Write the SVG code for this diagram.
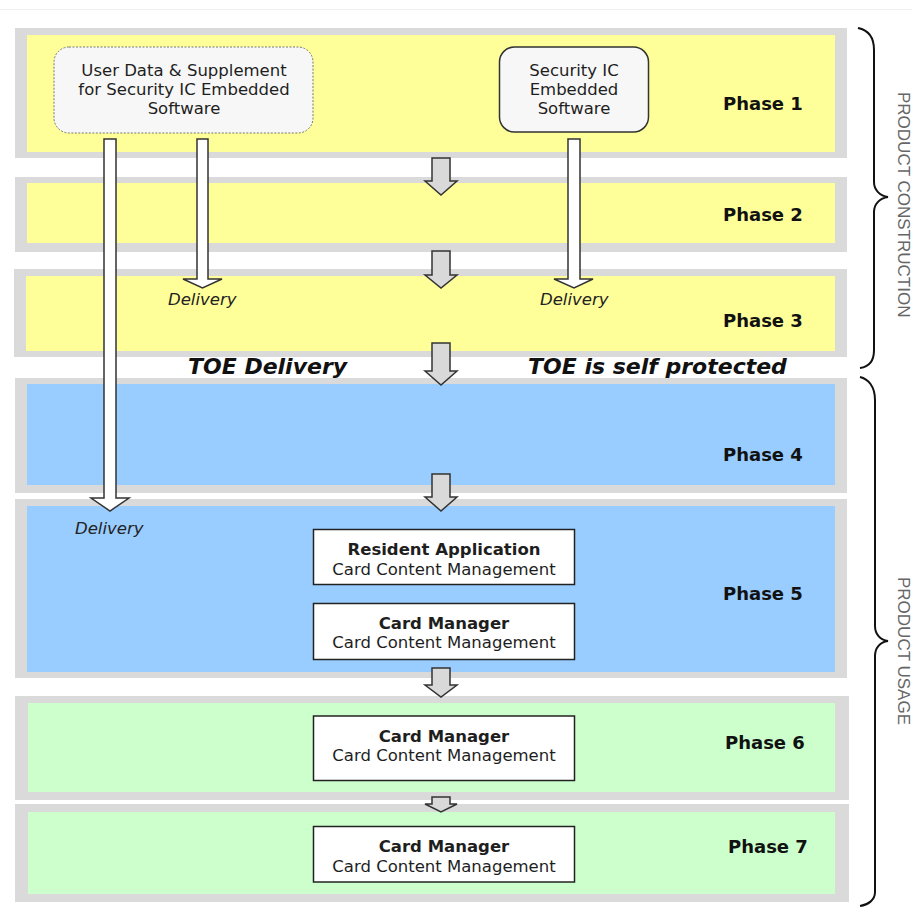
<svg xmlns="http://www.w3.org/2000/svg" width="912" height="909" viewBox="0 0 912 909">
<style>
.frame{fill:#dadada}
.yel{fill:#ffff99}
.blu{fill:#99ccff}
.grn{fill:#ccffcc}
.t{font-family:"DejaVu Sans",Verdana,sans-serif;fill:#1e1e1e}
.ph{font-family:"DejaVu Sans",Verdana,sans-serif;font-weight:bold;font-size:18px;fill:#111}
.nd{font-size:16.5px;text-anchor:middle}
.bx{fill:#fff;stroke:#222;stroke-width:1.5}
.del{font-family:"DejaVu Sans",Verdana,sans-serif;font-style:italic;font-size:16.5px;fill:#222}
.toe{font-family:"DejaVu Sans",Verdana,sans-serif;font-style:italic;font-weight:bold;font-size:22px;fill:#111}
.harrow{fill:#fff;stroke:#333;stroke-width:1.5}
.garrow{fill:#d9d9d9;stroke:#333;stroke-width:1.5}
.brace{fill:none;stroke:#111;stroke-width:2}
.vt{font-family:"Liberation Sans",Arial,sans-serif;font-size:17px;fill:#666}
</style>
<line x1="0" y1="9.5" x2="912" y2="9.5" stroke="#eeeeee" stroke-width="1"/>
<g id="phase1">
<rect class="frame" x="15" y="28" width="832" height="130"/>
<rect class="yel" x="27" y="35" width="808" height="117"/>
<text class="ph" x="723" y="110">Phase 1</text>
</g>
<g id="phase2">
<rect class="frame" x="15" y="177" width="832" height="75"/>
<rect class="yel" x="27" y="183" width="808" height="60"/>
<text class="ph" x="723" y="221">Phase 2</text>
</g>
<g id="phase3">
<rect class="frame" x="14" y="269" width="833" height="88"/>
<rect class="yel" x="26" y="276" width="809" height="75"/>
<text class="ph" x="723" y="327">Phase 3</text>
</g>
<g id="phase4">
<rect class="frame" x="15" y="378" width="832" height="115"/>
<rect class="blu" x="27" y="384" width="808" height="101"/>
<text class="ph" x="723" y="461">Phase 4</text>
</g>
<g id="phase5">
<rect class="frame" x="15" y="499" width="832" height="179"/>
<rect class="blu" x="27" y="506" width="808" height="166"/>
<text class="ph" x="723" y="600">Phase 5</text>
</g>
<g id="phase6">
<rect class="frame" x="15" y="696" width="834" height="104"/>
<rect class="grn" x="28" y="703" width="807" height="89"/>
<text class="ph" x="725" y="749">Phase 6</text>
</g>
<g id="phase7">
<rect class="frame" x="15" y="804" width="834" height="98"/>
<rect class="grn" x="28" y="812" width="807" height="82"/>
<text class="ph" x="728" y="853">Phase 7</text>
</g>
<g id="userdata">
<rect x="54" y="47" width="259" height="86" rx="15" fill="#f7f7f7" stroke="#777" stroke-width="1" stroke-dasharray="2,1.5"/>
<text class="t nd" x="184" y="76">User Data &amp; Supplement</text>
<text class="t nd" x="184" y="95">for Security IC Embedded</text>
<text class="t nd" x="184" y="114">Software</text>
</g>
<g id="securityic">
<rect x="499.5" y="47" width="149" height="85" rx="15" fill="#f7f7f7" stroke="#333" stroke-width="1.5"/>
<text class="t nd" x="574" y="76">Security IC</text>
<text class="t nd" x="574" y="95">Embedded</text>
<text class="t nd" x="574" y="114">Software</text>
</g>
<g id="resident">
<rect class="bx" x="313.5" y="529.5" width="261" height="55"/>
<text class="t nd" x="444" y="555" font-weight="bold" fill="#111">Resident Application</text>
<text class="t nd" x="444" y="575">Card Content Management</text>
</g>
<g id="cardmgr5">
<rect class="bx" x="313.5" y="603.5" width="261" height="56"/>
<text class="t nd" x="444" y="629" font-weight="bold" fill="#111">Card Manager</text>
<text class="t nd" x="444" y="648">Card Content Management</text>
</g>
<g id="cardmgr6">
<rect class="bx" x="313.5" y="716" width="261" height="64.5"/>
<text class="t nd" x="444" y="742" font-weight="bold" fill="#111">Card Manager</text>
<text class="t nd" x="444" y="761">Card Content Management</text>
</g>
<g id="cardmgr7">
<rect class="bx" x="313.5" y="826.5" width="261" height="55.5"/>
<text class="t nd" x="444" y="852" font-weight="bold" fill="#111">Card Manager</text>
<text class="t nd" x="444" y="872">Card Content Management</text>
</g>
<g id="connectors">
<polygon class="harrow" points="104,139 116,139 116,498 129,498 110,511 91,498 104,498"/>
<polygon class="harrow" points="197,139 208,139 208,279 222,279 202.5,288 183,279 197,279"/>
<polygon class="harrow" points="568,139 580,139 580,279 593,279 574,288 554,279 568,279"/>
<polygon class="garrow" points="432,158 450,158 450,181 457,181 441,195 425,181 432,181"/>
<polygon class="garrow" points="432,251 450,251 450,275 457,275 441,288 425,275 432,275"/>
<polygon class="garrow" points="432,343 450,343 450,371 457,371 441,385 425,371 432,371"/>
<polygon class="garrow" points="432,474 450,474 450,497 457,497 441,511 425,497 432,497"/>
<polygon class="garrow" points="432,668 450,668 450,685 457,685 441,697 425,685 432,685"/>
<polygon class="garrow" points="432,797 450,797 450,804 457,804 441,812 425,804 432,804"/>
</g>
<text class="del" x="168" y="305">Delivery</text>
<text class="del" x="540" y="305">Delivery</text>
<text class="del" x="75" y="534">Delivery</text>
<text class="toe" x="188" y="374">TOE Delivery</text>
<text class="toe" x="528" y="374">TOE is self protected</text>
<g id="braces">
<path class="brace" d="M858,28 C868,30 874,36 874,50 L874,182 C874,190 880,196 888,197 C880,198 874,204 874,212 L874,350 C874,362 868,367 860,368"/>
<path class="brace" d="M860,377 C868,379 875,386 875,400 L875,626 C875,634 880,640 888,641 C880,642 875,648 875,656 L875,892 C875,900 868,905 860,906"/>
</g>
<text class="vt" transform="translate(898,92) rotate(90)">PRODUCT CONSTRUCTION</text>
<text class="vt" transform="translate(898,577) rotate(90)">PRODUCT USAGE</text>
</svg>
